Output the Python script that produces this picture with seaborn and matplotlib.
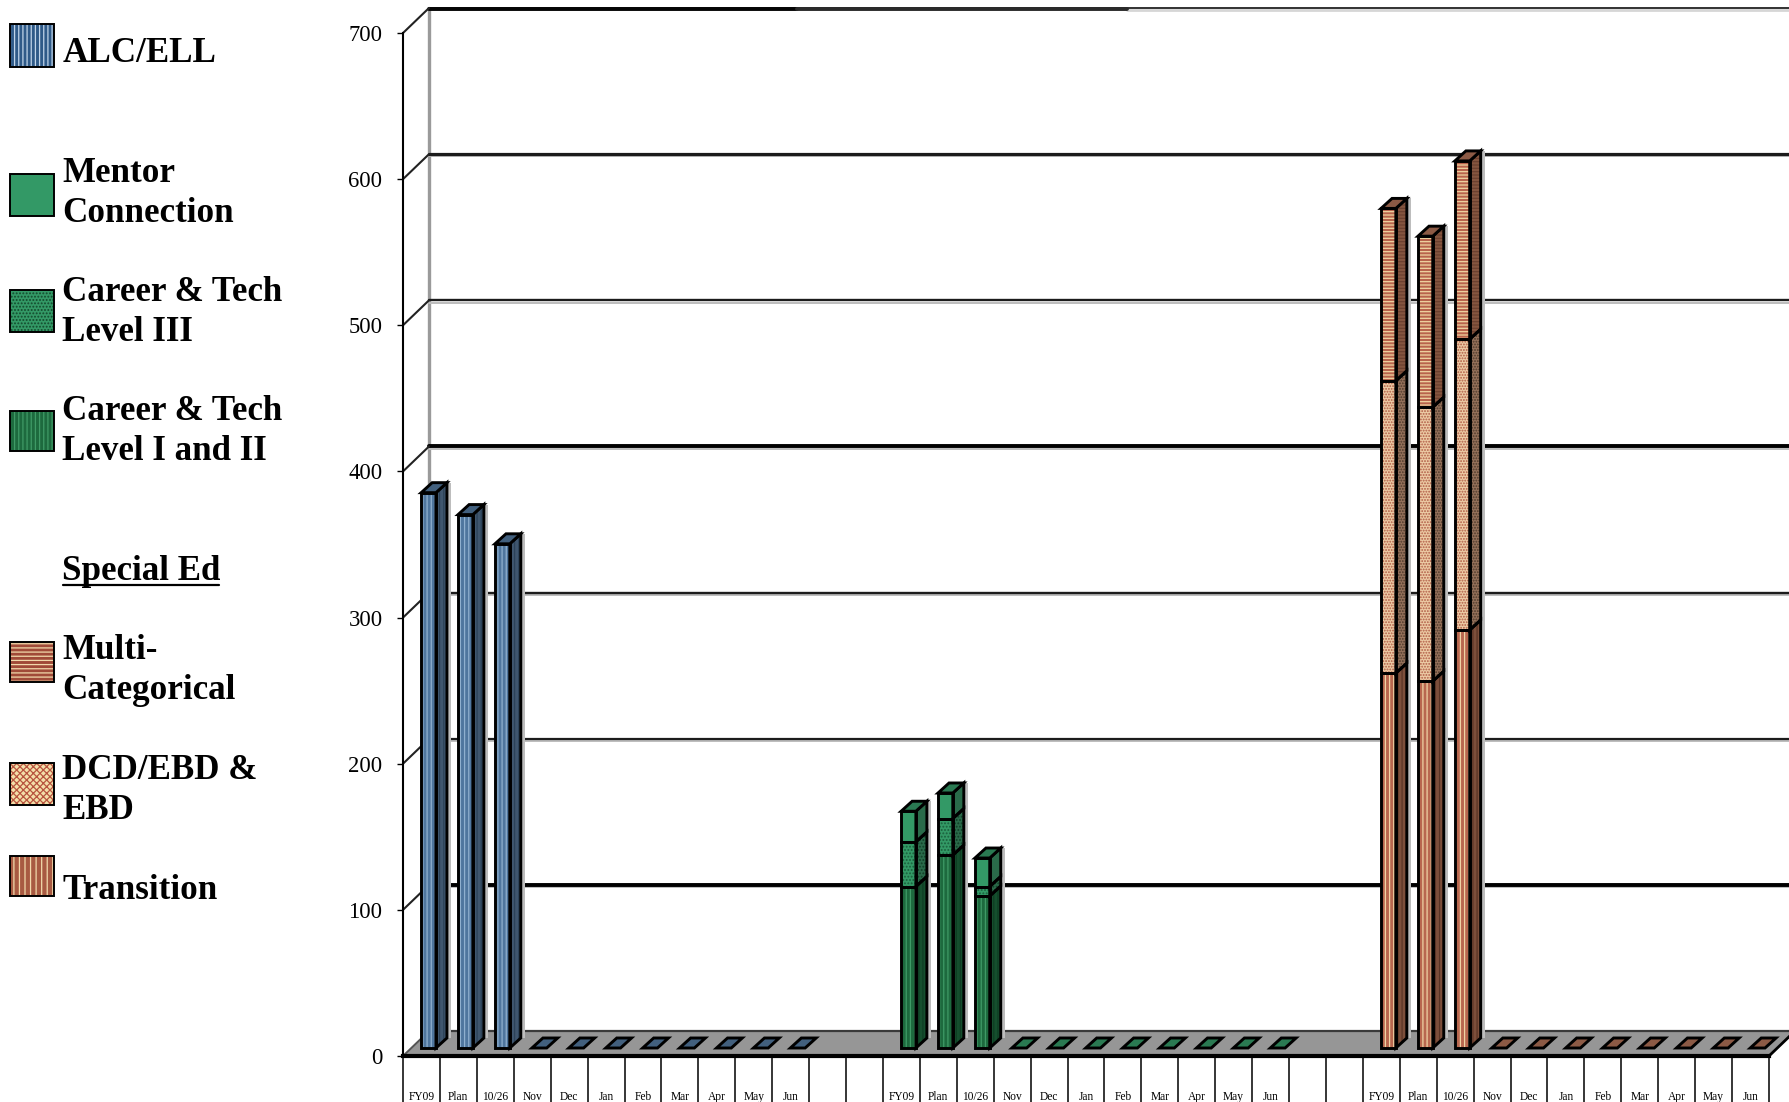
import numpy as np
import pandas as pd
import matplotlib
matplotlib.use("Agg")
import matplotlib.pyplot as plt
from matplotlib.patches import Polygon, Rectangle
from matplotlib.lines import Line2D
from matplotlib.transforms import Affine2D
import seaborn as sns

# ---- chart values ------------------------------------------------------
period_labels = ["FY09", "Plan", "10/26", "Nov", "Dec", "Jan", "Feb", "Mar", "Apr", "May", "Jun"]
y_ticks = [0, 100, 200, 300, 400, 500, 600, 700]

alc_ell = [380, 365, 345, 0, 0, 0, 0, 0, 0, 0, 0]

career_tech_1_2 = [110.5, 132, 104, 0, 0, 0, 0, 0, 0, 0, 0]
career_tech_3 = [30.5, 25, 6.5, 0, 0, 0, 0, 0, 0, 0, 0]
mentor_connection = [21, 17.5, 19.5, 0, 0, 0, 0, 0, 0, 0, 0]

transition = [256.5, 251, 286, 0, 0, 0, 0, 0, 0, 0, 0]
dcd_ebd = [200, 187.5, 199, 0, 0, 0, 0, 0, 0, 0, 0]
multi_categorical = [118, 117, 122, 0, 0, 0, 0, 0, 0, 0, 0]

# ---- series styling: face, stripe colour, hatch, side, side stripe, top ----
STYLES = {
    "alc": ("#4f769e", "#8fb0cf", "||||", "#3f566e", "#2c4258", "#42607e"),
    "ct12": ("#1d6a3e", "#3f9a66", "||||", "#154f2e", "#0f3d23", "#1d6a3e"),
    "ct3": ("#339966", "#1a5f3c", ".....", "#2a6b4a", "#123f28", "#2a6b4a"),
    "mentor": ("#339966", "#339966", "", "#2a6b4a", "#2a6b4a", "#2a7a52"),
    "trans": ("#b8674f", "#efd3a4", "||||", "#7d4f3b", "#5b3526", "#8c5a45"),
    "dcd": ("#eccaa4", "#b05a44", "......", "#94705a", "#4e3a2b", "#8c5a45"),
    "multi": ("#b8634c", "#efd3a0", "-----", "#85553f", "#6b4130", "#8c5a45"),
}

# ---- page geometry (pixels at dpi 100) ---------------------------------
W, H = 1790, 1102
SLOT_PX = 1366 / 37
UNIT_PX = 1023 / 700
WALL_DX, WALL_DY = 26 / SLOT_PX, 25 / UNIT_PX
BAR_DX, BAR_DY = 7.1 / SLOT_PX, 8 / UNIT_PX
DEPTH_DX, DEPTH_DY = 11 / SLOT_PX, 10 / UNIT_PX
BAR_WIDTH = 0.4
OUTLINE = 2.1
SERIF = "Liberation Serif"

sns.set_theme(style="white")
plt.rcParams["font.family"] = [SERIF, "DejaVu Serif"]
plt.rcParams["hatch.linewidth"] = 0.9

fig = plt.figure(figsize=(W / 100, H / 100), dpi=100, facecolor="white")
ax = fig.add_axes([403 / W, (H - 1056) / H, 1366 / W, 1023 / H])
ax.patch.set_alpha(0)
bar_shift = Affine2D().translate(BAR_DX, BAR_DY) + ax.transData


def stacked_bars(offset, layers):
    """Draw one group of pseudo-3D stacked bars, lowest layer first."""
    slots = np.arange(len(period_labels)) + offset
    base = np.zeros(len(slots))
    totals = np.sum([vals for _, vals in layers], axis=0)
    for key, vals in layers:
        face, stripe, hatch, side, side_stripe, top = STYLES[key]
        frame = pd.DataFrame({"slot": slots, "value": vals})
        before = len(ax.patches)
        sns.barplot(data=frame, x="slot", y="value", native_scale=True, width=BAR_WIDTH,
                    bottom=base, color=face, saturation=1, edgecolor=stripe,
                    linewidth=0, hatch=hatch, errorbar=None, ax=ax, zorder=5,
                    legend=False)
        for bar, total in zip(list(ax.patches[before:]), totals):
            x, y, w, h = bar.get_x(), bar.get_y(), bar.get_width(), bar.get_height()
            bar.set_transform(bar_shift)
            bar.set_clip_on(False)
            if h <= 0:
                continue
            # soft shadow strip, side face and outline of this segment
            ax.add_patch(Rectangle((x + w + DEPTH_DX, y + DEPTH_DY), 4 / SLOT_PX, h,
                                   transform=bar_shift, fc="#bdbdbd", ec="none",
                                   zorder=4, clip_on=False))
            corners = [(x + w, y), (x + w + DEPTH_DX, y + DEPTH_DY),
                       (x + w + DEPTH_DX, y + h + DEPTH_DY), (x + w, y + h)]
            ax.add_patch(Polygon(corners, closed=True, transform=bar_shift, fc=side,
                                 ec=side_stripe, lw=0, hatch=hatch, zorder=5, clip_on=False))
            ax.add_patch(Polygon(corners, closed=True, transform=bar_shift, fill=False,
                                 ec="black", lw=OUTLINE, zorder=6, clip_on=False))
            ax.add_patch(Rectangle((x, y), w, h, transform=bar_shift, fill=False,
                                   ec="black", lw=OUTLINE, zorder=6, clip_on=False))
        base = base + np.asarray(vals, dtype=float)
    # top cap on the highest layer, including the zero-height months
    top_color = STYLES[layers[-1][0]][5]
    for slot, total in zip(slots, totals):
        x = slot - BAR_WIDTH / 2
        cap = [(x, total), (x + BAR_WIDTH, total),
               (x + BAR_WIDTH + DEPTH_DX, total + DEPTH_DY), (x + DEPTH_DX, total + DEPTH_DY)]
        ax.add_patch(Polygon(cap, closed=True, transform=bar_shift, fc=top_color, ec="black",
                             lw=OUTLINE, zorder=7, clip_on=False))


# ---- walls and floor ---------------------------------------------------
x0, x1 = -0.5, 36.5
ymax = y_ticks[-1]
ax.add_patch(Polygon([(x0, 0), (x0 + WALL_DX, WALL_DY), (x1 + WALL_DX, WALL_DY), (x1, 0)],
                     closed=True, fc="#969696", ec="none", zorder=1, clip_on=False))
ax.plot([x0 + WALL_DX, x1 + WALL_DX], [WALL_DY, WALL_DY], color="#3a3a3a", lw=1.6,
        zorder=2, clip_on=False)
ax.plot([x0 + WALL_DX, x0 + WALL_DX], [WALL_DY, ymax + WALL_DY], color="#9a9a9a", lw=2.4,
        zorder=1.5, clip_on=False)
ax.plot([x0, x0 + WALL_DX], [0, WALL_DY], color="#555555", lw=1.4, zorder=2, clip_on=False)
ax.plot([x1, x1 + WALL_DX], [0, WALL_DY], color="black", lw=2, zorder=2, clip_on=False)

# gridlines on the back wall with their short returns on the side wall
grid_widths = {100: 2.8, 200: 1.6, 300: 1.7, 400: 2.8, 500: 1.7, 600: 2.3}
for tick in y_ticks[1:-1]:
    lw = grid_widths[tick]
    shade = "black" if lw > 2.5 else "#1c1c1c"
    ax.plot([x0 + WALL_DX, x1 + WALL_DX], [tick + WALL_DY - 1.6] * 2, color="#bdbdbd", lw=1.4,
            zorder=1.8, clip_on=False)
    ax.plot([x0 + WALL_DX, x1 + WALL_DX], [tick + WALL_DY] * 2, color=shade, lw=lw,
            zorder=2, clip_on=False)
    ax.plot([x0, x0 + WALL_DX], [tick, tick + WALL_DY], color="#222222", lw=1.5, zorder=2,
            clip_on=False)
top_mid = x0 + WALL_DX + (797 - 429) / SLOT_PX
top_break = x0 + WALL_DX + (1127 - 429) / SLOT_PX
ax.plot([top_break, x1 + WALL_DX], [ymax + WALL_DY - 1.4] * 2, color="#d6d6d6", lw=2,
        zorder=1.8, clip_on=False)
ax.plot([x0 + WALL_DX, x1 + WALL_DX], [ymax + WALL_DY] * 2, color="#222222", lw=1.3,
        zorder=2, clip_on=False)
ax.plot([x0 + WALL_DX, top_mid], [ymax + WALL_DY - 0.6] * 2, color="#050505", lw=2.8,
        zorder=2, clip_on=False)
ax.plot([top_mid, top_break], [ymax + WALL_DY - 0.6] * 2, color="#2a2a2a", lw=2.8,
        zorder=2, clip_on=False)
ax.plot([x0, x0 + WALL_DX], [ymax, ymax + WALL_DY], color="#222222", lw=1.5, zorder=2,
        clip_on=False)

# ---- bars --------------------------------------------------------------
stacked_bars(0, [("alc", alc_ell)])
stacked_bars(13, [("ct12", career_tech_1_2), ("ct3", career_tech_3), ("mentor", mentor_connection)])
stacked_bars(26, [("trans", transition), ("dcd", dcd_ebd), ("multi", multi_categorical)])

# ---- axes --------------------------------------------------------------
ax.set_xlim(x0, x1)
ax.set_ylim(0, ymax)
ax.set_xlabel("")
ax.set_ylabel("")
for side_name in ("top", "right"):
    ax.spines[side_name].set_visible(False)
ax.spines["left"].set_linewidth(1.5)
ax.spines["left"].set_color("black")
ax.spines["bottom"].set_linewidth(3)
ax.spines["bottom"].set_color("black")
ax.spines["bottom"].set_zorder(8)

group_labels = period_labels + ["", ""]
all_labels = (group_labels * 3)[:37]
ax.set_xticks(np.arange(37))
ax.set_xticklabels(all_labels)
ax.set_xticks(np.arange(38) - 0.5, minor=True)
ax.tick_params(axis="x", which="major", length=0, pad=25, labelsize=8.3, labelcolor="black")
ax.tick_params(axis="x", which="minor", length=34, width=1.1, color="black", bottom=True)
ax.set_yticks(y_ticks)
ax.tick_params(axis="y", which="major", length=4.3, width=1, color="black", pad=10.5,
               labelsize=16.3, labelcolor="black", left=True)

# ---- key down the left margin ------------------------------------------
legend_rows = [
    (["ALC/ELL"], [62], (24, 67), "#2f5a88", "#c0d4e8", "||||"),
    (["Mentor", "Connection"], [182, 222], (174, 216), "#339966", "#339966", ""),
    (["Career & Tech", "Level III"], [301, 341], (290, 332), "#339966", "#13492c", "....."),
    (["Career & Tech", "Level I and II"], [420, 460], (411, 451), "#1d6a3e", "#3f9a66", "||||"),
    (["Multi-", "Categorical"], [659, 699], (642, 682), "#a04a38", "#f1d9ab", "----"),
    (["DCD/EBD &", "EBD"], [779, 819], (763, 805), "#f4dfa9", "#b8553f", "xxxxx"),
    (["Transition"], [899], (856, 896), "#a85a42", "#f1d9ab", "|||"),
]


def page_xy(x, y):
    return x / W, 1 - y / H


for lines, baselines, (top_y, bottom_y), face, stripe, hatch in legend_rows:
    lx, ly = page_xy(10, bottom_y)
    fig.add_artist(Rectangle((lx, ly), 44 / W, (bottom_y - top_y) / H, transform=fig.transFigure,
                             fc=face, ec=stripe, lw=0, hatch=hatch))
    fig.add_artist(Rectangle((lx, ly), 44 / W, (bottom_y - top_y) / H, transform=fig.transFigure,
                             fill=False, ec="black", lw=1.4))
    for line, base_y in zip(lines, baselines):
        tx, ty = page_xy(62.5, base_y)
        fig.text(tx, ty, line, fontsize=25.2, fontweight="bold", color="black", va="baseline",
                 ha="left")

tx, ty = page_xy(62.5, 580)
fig.text(tx, ty, "Special Ed", fontsize=25.2, fontweight="bold", color="black", va="baseline", ha="left")
ux0, uy = page_xy(63, 585)
ux1, _ = page_xy(219, 585)
fig.add_artist(Line2D([ux0, ux1], [uy, uy], transform=fig.transFigure, color="black", lw=1.6))

fig.savefig("out.png", dpi=100, facecolor="white")
